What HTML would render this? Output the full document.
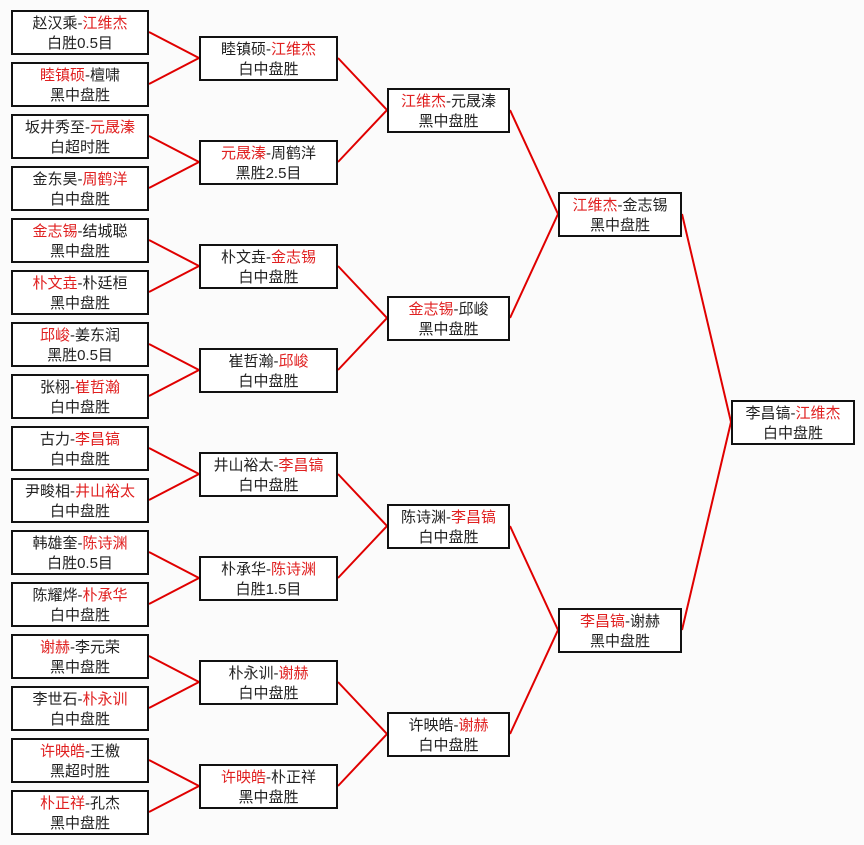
<!DOCTYPE html>
<html><head><meta charset="utf-8"><style>
body{margin:0;width:864px;height:845px;background:#fbfbfb;position:relative;overflow:hidden;font-family:"Liberation Sans","Noto Sans CJK SC","WenQuanYi Zen Hei",sans-serif;}
.b{position:absolute;border:2px solid #111;background:#fff;text-align:center;font-size:15px;line-height:20px;color:#222;box-sizing:content-box;padding-top:2px;height:39px;}
.r{color:#e02020}
.c1{left:11px;width:134px}.c2{left:199px;width:135px}.c3{left:387px;width:119px}.c4{left:558px;width:120px}.c5{left:731px;width:120px}
svg{position:absolute;left:0;top:0}
</style></head><body>
<svg width="864" height="845" stroke="#e00000" stroke-width="2" fill="none">
<path d="M149 32L199 58L149 84 M149 136L199 162L149 188 M149 240L199 266L149 292 M149 344L199 370L149 396 M149 448L199 474L149 500 M149 552L199 578L149 604 M149 656L199 682L149 708 M149 760L199 786L149 812"/>
<path d="M338 58L387 110L338 162 M338 266L387 318L338 370 M338 474L387 526L338 578 M338 682L387 734L338 786"/>
<path d="M510 110L558 214L510 318 M510 526L558 630L510 734"/>
<path d="M682 214L731 422L682 630"/>
</svg>
<div class="b c1" style="top:10px">赵汉乘-<span class="r">江维杰</span><br>白胜0.5目</div>
<div class="b c1" style="top:62px"><span class="r">睦镇硕</span>-檀啸<br>黑中盘胜</div>
<div class="b c1" style="top:114px">坂井秀至-<span class="r">元晟溱</span><br>白超时胜</div>
<div class="b c1" style="top:166px">金东昊-<span class="r">周鹤洋</span><br>白中盘胜</div>
<div class="b c1" style="top:218px"><span class="r">金志锡</span>-结城聪<br>黑中盘胜</div>
<div class="b c1" style="top:270px"><span class="r">朴文垚</span>-朴廷桓<br>黑中盘胜</div>
<div class="b c1" style="top:322px"><span class="r">邱峻</span>-姜东润<br>黑胜0.5目</div>
<div class="b c1" style="top:374px">张栩-<span class="r">崔哲瀚</span><br>白中盘胜</div>
<div class="b c1" style="top:426px">古力-<span class="r">李昌镐</span><br>白中盘胜</div>
<div class="b c1" style="top:478px">尹畯相-<span class="r">井山裕太</span><br>白中盘胜</div>
<div class="b c1" style="top:530px">韩雄奎-<span class="r">陈诗渊</span><br>白胜0.5目</div>
<div class="b c1" style="top:582px">陈耀烨-<span class="r">朴承华</span><br>白中盘胜</div>
<div class="b c1" style="top:634px"><span class="r">谢赫</span>-李元荣<br>黑中盘胜</div>
<div class="b c1" style="top:686px">李世石-<span class="r">朴永训</span><br>白中盘胜</div>
<div class="b c1" style="top:738px"><span class="r">许映皓</span>-王檄<br>黑超时胜</div>
<div class="b c1" style="top:790px"><span class="r">朴正祥</span>-孔杰<br>黑中盘胜</div>

<div class="b c2" style="top:36px">睦镇硕-<span class="r">江维杰</span><br>白中盘胜</div>
<div class="b c2" style="top:140px"><span class="r">元晟溱</span>-周鹤洋<br>黑胜2.5目</div>
<div class="b c2" style="top:244px">朴文垚-<span class="r">金志锡</span><br>白中盘胜</div>
<div class="b c2" style="top:348px">崔哲瀚-<span class="r">邱峻</span><br>白中盘胜</div>
<div class="b c2" style="top:452px">井山裕太-<span class="r">李昌镐</span><br>白中盘胜</div>
<div class="b c2" style="top:556px">朴承华-<span class="r">陈诗渊</span><br>白胜1.5目</div>
<div class="b c2" style="top:660px">朴永训-<span class="r">谢赫</span><br>白中盘胜</div>
<div class="b c2" style="top:764px"><span class="r">许映皓</span>-朴正祥<br>黑中盘胜</div>

<div class="b c3" style="top:88px"><span class="r">江维杰</span>-元晟溱<br>黑中盘胜</div>
<div class="b c3" style="top:296px"><span class="r">金志锡</span>-邱峻<br>黑中盘胜</div>
<div class="b c3" style="top:504px">陈诗渊-<span class="r">李昌镐</span><br>白中盘胜</div>
<div class="b c3" style="top:712px">许映皓-<span class="r">谢赫</span><br>白中盘胜</div>

<div class="b c4" style="top:192px"><span class="r">江维杰</span>-金志锡<br>黑中盘胜</div>
<div class="b c4" style="top:608px"><span class="r">李昌镐</span>-谢赫<br>黑中盘胜</div>

<div class="b c5" style="top:400px">李昌镐-<span class="r">江维杰</span><br>白中盘胜</div>
</body></html>
